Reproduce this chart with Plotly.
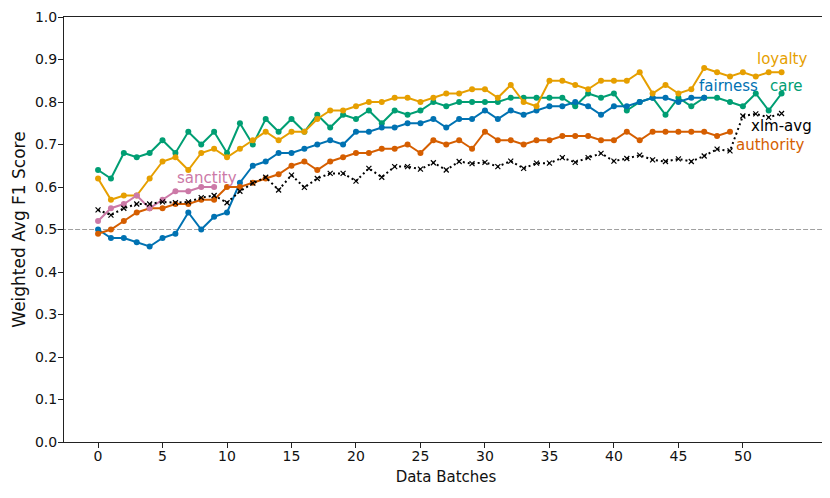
import plotly.graph_objects as go

# ---- data ----
care = [0.64, 0.62, 0.68, 0.67, 0.68, 0.71, 0.68, 0.73, 0.70, 0.73,
        0.68, 0.75, 0.70, 0.76, 0.73, 0.76, 0.73, 0.77, 0.74, 0.77,
        0.76, 0.78, 0.75, 0.78, 0.77, 0.78, 0.80, 0.79, 0.80, 0.80,
        0.80, 0.80, 0.81, 0.81, 0.81, 0.81, 0.81, 0.79, 0.82, 0.81,
        0.82, 0.78, 0.80, 0.81, 0.77, 0.81, 0.79, 0.81, 0.81, 0.80,
        0.79, 0.82, 0.78, 0.82]
loyalty = [0.62, 0.57, 0.58, 0.58, 0.62, 0.66, 0.67, 0.64, 0.68, 0.69,
           0.67, 0.69, 0.71, 0.73, 0.71, 0.73, 0.73, 0.76, 0.78, 0.78,
           0.79, 0.80, 0.80, 0.81, 0.81, 0.80, 0.81, 0.82, 0.82, 0.83,
           0.83, 0.81, 0.84, 0.80, 0.79, 0.85, 0.85, 0.84, 0.83, 0.85,
           0.85, 0.85, 0.87, 0.82, 0.84, 0.82, 0.83, 0.88, 0.87, 0.86,
           0.87, 0.86, 0.87, 0.87]
fairness = [0.50, 0.48, 0.48, 0.47, 0.46, 0.48, 0.49, 0.54, 0.50, 0.53,
            0.54, 0.61, 0.65, 0.66, 0.68, 0.68, 0.69, 0.70, 0.71, 0.70,
            0.73, 0.73, 0.74, 0.74, 0.75, 0.75, 0.76, 0.74, 0.76, 0.76,
            0.78, 0.76, 0.78, 0.77, 0.78, 0.79, 0.79, 0.80, 0.79, 0.77,
            0.79, 0.79, 0.80, 0.81, 0.81, 0.80, 0.81, 0.81]
authority = [0.49, 0.50, 0.52, 0.54, 0.55, 0.55, 0.56, 0.56, 0.57, 0.57,
             0.60, 0.60, 0.61, 0.62, 0.63, 0.65, 0.66, 0.64, 0.66, 0.67,
             0.68, 0.68, 0.69, 0.69, 0.70, 0.68, 0.71, 0.70, 0.71, 0.69,
             0.73, 0.71, 0.71, 0.70, 0.71, 0.71, 0.72, 0.72, 0.72, 0.71,
             0.71, 0.73, 0.71, 0.73, 0.73, 0.73, 0.73, 0.73, 0.72, 0.73]
sanctity = [0.52, 0.55, 0.56, 0.58, 0.55, 0.57, 0.59, 0.59, 0.60, 0.60]
xlm_avg = [0.546, 0.534, 0.550, 0.560, 0.560, 0.565, 0.563, 0.565, 0.575, 0.580,
           0.563, 0.590, 0.609, 0.623, 0.593, 0.628, 0.599, 0.620, 0.632, 0.632,
           0.614, 0.644, 0.623, 0.648, 0.648, 0.642, 0.657, 0.640, 0.660, 0.655,
           0.658, 0.648, 0.661, 0.644, 0.656, 0.656, 0.669, 0.658, 0.669, 0.679,
           0.661, 0.667, 0.675, 0.664, 0.660, 0.666, 0.660, 0.673, 0.689, 0.685,
           0.767, 0.772, 0.764, 0.773]

x_ticks = [0, 5, 10, 15, 20, 25, 30, 35, 40, 45, 50]
y_ticks = [0.0, 0.1, 0.2, 0.3, 0.4, 0.5, 0.6, 0.7, 0.8, 0.9, 1.0]
y_tick_labels = ["0.0", "0.1", "0.2", "0.3", "0.4", "0.5", "0.6", "0.7", "0.8", "0.9", "1.0"]

series = [
    ("care", care, "#009E73"),
    ("fairness", fairness, "#0072B2"),
    ("loyalty", loyalty, "#E69F00"),
    ("authority", authority, "#D55E00"),
    ("sanctity", sanctity, "#CC79A7"),
]

# label anchors (data coords) for the inline series names
labels = [
    ("sanctity", 8.45, 0.621, "#CC79A7"),
    ("loyalty", 53.0, 0.901, "#E69F00"),
    ("fairness", 48.9, 0.838, "#0072B2"),
    ("care", 53.4, 0.838, "#009E73"),
    ("xlm-avg", 53.0, 0.743, "#000000"),
    ("authority", 52.1, 0.700, "#D55E00"),
]

FONT = "DejaVu Sans"
fig = go.Figure()

for name, vals, col in series:
    fig.add_trace(go.Scatter(
        x=list(range(len(vals))), y=vals, mode="lines+markers", name=name,
        line=dict(color=col, width=2),
        marker=dict(color=col, size=6, symbol="circle"),
        showlegend=False,
    ))

fig.add_trace(go.Scatter(
    x=list(range(len(xlm_avg))), y=xlm_avg, mode="lines+markers", name="xlm-avg",
    line=dict(color="black", width=2, dash="2px,3px"),
    marker=dict(symbol="x-thin", size=5, color="black",
                line=dict(color="black", width=1.2)),
    showlegend=False,
))

# dashed reference line at 0.5
fig.add_shape(type="line", xref="paper", yref="y", x0=-0.013, x1=1, y0=0.5, y1=0.5,
              line=dict(color="#a0a0a0", width=1.2, dash="5px,2px"), layer="below")

for text, lx, ly, col in labels:
    fig.add_annotation(x=lx, y=ly, text=text, showarrow=False,
                       xanchor="center", yanchor="middle",
                       font=dict(family=FONT, size=15, color=col))

axis_common = dict(showline=True, linecolor="#222222", linewidth=1, mirror=True,
                   ticks="outside", ticklen=5, tickwidth=1, tickcolor="#222222",
                   showgrid=False, zeroline=False, automargin=False,
                   tickfont=dict(family=FONT, size=14, color="#111111"))

fig.update_xaxes(range=[-2.64, 56.6], tickmode="array", tickvals=x_ticks,
                 ticklabelstandoff=-4,
                 title=dict(text="Data Batches", font=dict(family=FONT, size=15, color="#111111"),
                            standoff=8),
                 **axis_common)
fig.update_yaxes(range=[0, 1], tickmode="array", tickvals=y_ticks, ticktext=y_tick_labels,
                 ticklabelstandoff=-2,
                 title=dict(text="Weighted Avg F1 Score", font=dict(family=FONT, size=17, color="#111111"),
                            standoff=4),
                 **axis_common)

# the page body adds an 8px offset, so the figure is sized to fit inside the window
fig.update_layout(
    width=822, height=490,
    margin=dict(l=56, r=2, t=9, b=56, autoexpand=False),
    plot_bgcolor="white", paper_bgcolor="white",
    font=dict(family=FONT),
)

fig.write_html("out.html")
